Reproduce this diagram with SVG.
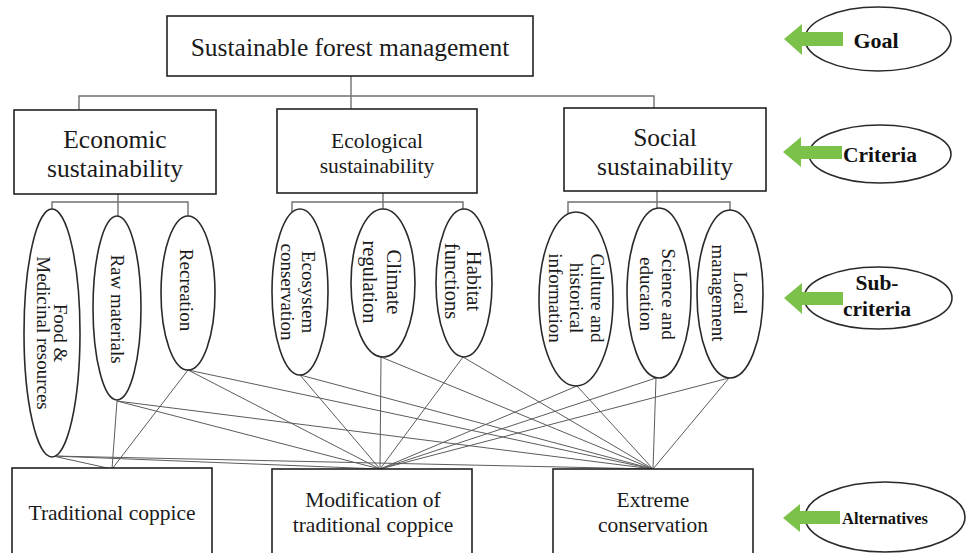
<svg xmlns="http://www.w3.org/2000/svg" width="968" height="553" viewBox="0 0 968 553">
<style>
.box{fill:#fff;stroke:#222;stroke-width:1.6}
.ell{fill:#fff;stroke:#2a2a2a;stroke-width:1.6}
.tree{fill:none;stroke:#707070;stroke-width:1.4}
.link{fill:none;stroke:#5c5c5c;stroke-width:1}
.t{font-family:"Liberation Serif","Times New Roman",serif;fill:#1a1a1a;text-anchor:middle}
.sub{font-size:19px}
.lab{font-family:"Liberation Serif","Times New Roman",serif;font-weight:bold;fill:#111;text-anchor:middle}
.arrow{fill:#7cc24a}
</style>
<rect width="968" height="553" fill="#fff"/>

<!-- hierarchy and comparison links -->
<g id="connectors">
  <path class="tree" d="M79,110 V96 H654 V108"/>
  <path class="tree" d="M351,76 V109"/>
  <path class="tree" d="M118,194 V218"/>
  <path class="tree" d="M52,211 V202 H188 V219"/>
  <path class="tree" d="M383,193 V212"/>
  <path class="tree" d="M292,214 V202 H463 V213"/>
  <path class="tree" d="M657,191 V211"/>
  <path class="tree" d="M568,216 V202 H730 V214"/>

  <!-- Food & Medicinal resources -->
  <line class="link" x1="53" y1="456" x2="112" y2="469"/>
  <line class="link" x1="53" y1="456" x2="380" y2="469"/>
  <line class="link" x1="53" y1="456" x2="653" y2="469"/>
  <!-- Raw materials -->
  <line class="link" x1="117" y1="401" x2="112" y2="469"/>
  <line class="link" x1="117" y1="401" x2="380" y2="469"/>
  <line class="link" x1="117" y1="401" x2="653" y2="469"/>
  <!-- Recreation -->
  <line class="link" x1="188" y1="370" x2="112" y2="469"/>
  <line class="link" x1="188" y1="370" x2="380" y2="469"/>
  <line class="link" x1="188" y1="370" x2="653" y2="469"/>
  <!-- Ecosystem conservation -->
  <line class="link" x1="300" y1="375" x2="380" y2="469"/>
  <line class="link" x1="300" y1="375" x2="653" y2="469"/>
  <!-- Climate regulation -->
  <line class="link" x1="381" y1="357" x2="380" y2="469"/>
  <line class="link" x1="381" y1="357" x2="653" y2="469"/>
  <!-- Habitat functions -->
  <line class="link" x1="463" y1="357" x2="380" y2="469"/>
  <line class="link" x1="463" y1="357" x2="653" y2="469"/>
  <!-- Culture and historical information -->
  <line class="link" x1="577" y1="386" x2="380" y2="469"/>
  <line class="link" x1="577" y1="386" x2="653" y2="469"/>
  <!-- Science and education -->
  <line class="link" x1="656" y1="378" x2="380" y2="469"/>
  <line class="link" x1="656" y1="378" x2="653" y2="469"/>
  <!-- Local management -->
  <line class="link" x1="729" y1="378" x2="380" y2="469"/>
  <line class="link" x1="729" y1="378" x2="653" y2="469"/>
</g>

<!-- goal -->
<g id="goal">
  <rect class="box" x="167" y="16" width="366" height="60"/>
  <text class="t" x="350" y="56" font-size="25.5">Sustainable forest management</text>
</g>

<!-- criteria -->
<g id="economic">
  <rect class="box" x="14" y="110" width="202" height="84"/>
  <text class="t" x="115" y="148" font-size="25.5">Economic</text>
  <text class="t" x="115" y="177" font-size="25.5">sustainability</text>
</g>
<g id="ecological">
  <rect class="box" x="277" y="109" width="200" height="84"/>
  <text class="t" x="377" y="148" font-size="21.5">Ecological</text>
  <text class="t" x="377" y="173" font-size="21.5">sustainability</text>
</g>
<g id="social">
  <rect class="box" x="564" y="108" width="202" height="83"/>
  <text class="t" x="665" y="146" font-size="25.5">Social</text>
  <text class="t" x="665" y="175" font-size="25.5">sustainability</text>
</g>

<!-- sub-criteria -->
<g id="food">
  <ellipse class="ell" cx="52" cy="333" rx="28" ry="124"/>
  <g transform="translate(52,333) rotate(90)">
    <text class="t sub" x="0" y="-2">Food &amp;</text>
    <text class="t sub" x="0" y="15">Medicinal resources</text>
  </g>
</g>
<g id="raw">
  <ellipse class="ell" cx="117" cy="308" rx="24" ry="92"/>
  <g transform="translate(117,309) rotate(90)">
    <text class="t sub" x="0" y="6">Raw materials</text>
  </g>
</g>
<g id="recreation">
  <ellipse class="ell" cx="188" cy="293" rx="27" ry="77"/>
  <g transform="translate(188,290) rotate(90)">
    <text class="t sub" x="0" y="8">Recreation</text>
  </g>
</g>
<g id="ecosystem">
  <ellipse class="ell" cx="300" cy="292" rx="28" ry="83"/>
  <g transform="translate(300,292) rotate(90)">
    <text class="t sub" x="0" y="-2">Ecosystem</text>
    <text class="t sub" x="0" y="19">conservation</text>
  </g>
</g>
<g id="climate">
  <ellipse class="ell" cx="383" cy="283" rx="32" ry="74"/>
  <g transform="translate(383,282) rotate(90)">
    <text class="t" x="0" y="-4" font-size="20.5">Climate</text>
    <text class="t" x="0" y="20" font-size="20.5">regulation</text>
  </g>
</g>
<g id="habitat">
  <ellipse class="ell" cx="464" cy="283" rx="28" ry="74"/>
  <g transform="translate(464,281) rotate(90)">
    <text class="t" x="0" y="-3" font-size="20.5">Habitat</text>
    <text class="t" x="0" y="19" font-size="20.5">functions</text>
  </g>
</g>
<g id="culture">
  <ellipse class="ell" cx="576" cy="299" rx="37" ry="87"/>
  <g transform="translate(576,298) rotate(90)">
    <text class="t sub" x="0" y="-15">Culture and</text>
    <text class="t sub" x="0" y="6">historical</text>
    <text class="t sub" x="0" y="27">information</text>
  </g>
</g>
<g id="science">
  <ellipse class="ell" cx="659" cy="293" rx="32" ry="85"/>
  <g transform="translate(659,294) rotate(90)">
    <text class="t sub" x="0" y="-3">Science and</text>
    <text class="t sub" x="0" y="19">education</text>
  </g>
</g>
<g id="local">
  <ellipse class="ell" cx="730" cy="294" rx="33" ry="84"/>
  <g transform="translate(730,293) rotate(90)">
    <text class="t sub" x="0" y="-4">Local</text>
    <text class="t sub" x="0" y="18">management</text>
  </g>
</g>

<!-- alternatives -->
<g id="traditional">
  <rect class="box" x="12" y="468" width="200" height="100"/>
  <text class="t" x="112" y="520" font-size="21.5">Traditional coppice</text>
</g>
<g id="modification">
  <rect class="box" x="272" y="469" width="200" height="100"/>
  <text class="t" x="373" y="507" font-size="21.5">Modification of</text>
  <text class="t" x="373" y="532" font-size="21.5">traditional coppice</text>
</g>
<g id="extreme">
  <rect class="box" x="553" y="469" width="200" height="100"/>
  <text class="t" x="653" y="507" font-size="21.5">Extreme</text>
  <text class="t" x="653" y="532" font-size="21.5">conservation</text>
</g>

<!-- level labels -->
<g id="label-goal">
  <ellipse class="ell" cx="878" cy="39" rx="73" ry="32"/>
  <polygon class="arrow" points="784,39 802,24 802,32 843,32 843,46 802,46 802,55"/>
  <text class="lab" x="876" y="48" font-size="22">Goal</text>
</g>
<g id="label-criteria">
  <ellipse class="ell" cx="880" cy="154" rx="71" ry="29"/>
  <polygon class="arrow" points="783,152 801,137 801,146 842,146 842,159 801,159 801,167"/>
  <text class="lab" x="880" y="162" font-size="21.5">Criteria</text>
</g>
<g id="label-subcriteria">
  <ellipse class="ell" cx="878" cy="298" rx="74" ry="31"/>
  <polygon class="arrow" points="784,298 802,283 802,292 843,292 843,305 802,305 802,314"/>
  <text class="lab" x="877" y="290" font-size="21.5">Sub-</text>
  <text class="lab" x="877" y="316" font-size="21.5">criteria</text>
</g>
<g id="label-alternatives">
  <ellipse class="ell" cx="885" cy="517" rx="80" ry="35"/>
  <polygon class="arrow" points="783,518 800,504 800,511 840,511 840,524 800,524 800,532"/>
  <text class="lab" x="885" y="524" font-size="17" textLength="86" lengthAdjust="spacingAndGlyphs">Alternatives</text>
</g>
</svg>
